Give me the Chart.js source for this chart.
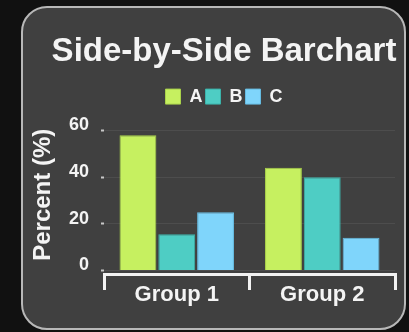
<!DOCTYPE html>
<html>
<head>
<meta charset="utf-8">
<script src="https://cdn.jsdelivr.net/npm/chart.js@4.4.0/dist/chart.umd.min.js"></script>
<style>
  html, body { margin: 0; padding: 0; background: #111111; overflow: hidden; width: 409px; height: 332px; }
  .panel {
    position: absolute; left: 21px; top: 6px; width: 385px; height: 324px;
    box-sizing: border-box; border: 2px solid #b8b8b8; border-radius: 26px; background: #404040;
  }
  canvas { position: absolute; left: 0; top: 0; }
</style>
</head>
<body>
<div class="panel"></div>
<canvas id="myChart" width="420" height="332"></canvas>
<script>
// Data
const categories = ['Group 1', 'Group 2'];
const seriesNames = ['A', 'B', 'C'];
const valuesA = [58, 44];
const valuesB = [15.5, 40];
const valuesC = [25, 14];
const yTickValues = [0, 20, 40, 60];

// Colors
const fills = ['#c6f060', '#4ecdc4', '#7fd5fb'];
const edges = ['#a9d24a', '#3bb3aa', '#67bde3'];

Chart.defaults.font.family = "'Liberation Sans', Arial, sans-serif";
Chart.defaults.font.weight = 'bold';
Chart.defaults.color = '#f4f4f4';

const ctx = document.getElementById('myChart').getContext('2d');

const myChart = new Chart(ctx, {
  type: 'bar',
  data: {
    labels: categories,
    datasets: [valuesA, valuesB, valuesC].map((vals, i) => ({
      label: seriesNames[i],
      data: vals,
      backgroundColor: fills[i],
      borderColor: edges[i],
      borderWidth: 1,
      categoryPercentage: 0.8,
      barPercentage: 0.95,
    })),
  },
  options: {
    responsive: false,
    animation: false,
    layout: { padding: { left: 28, right: 0, top: 0, bottom: 0 } },
    plugins: {
      title: {
        display: true,
        text: 'Side-by-Side Barchart',
        color: '#f4f4f4',
        font: { size: 33, weight: 'bold' },
        padding: { top: 32, bottom: 13 },
      },
      legend: {
        display: true,
        labels: {
          boxWidth: 15,
          boxHeight: 15,
          padding: 3,
          color: '#f4f4f4',
          font: { size: 18, weight: 'bold' },
        },
      },
      tooltip: { enabled: false },
    },
    scales: {
      x: {
        grid: {
          drawOnChartArea: false,
          drawTicks: true,
          tickLength: 16,
          color: '#f2f2f2',
          lineWidth: 3,
        },
        border: { display: true, color: '#f2f2f2', width: 3 },
        ticks: { color: '#f4f4f4', font: { size: 22, weight: 'bold' }, padding: -8 },
        afterFit: (s) => { s.height = 58; },
      },
      y: {
        min: -1.5,
        max: 66.4,
        afterBuildTicks: (s) => { s.ticks = yTickValues.map(v => ({ value: v })); },
        grid: {
          color: 'rgba(255,255,255,0.07)',
          tickColor: '#c8c8c8',
          tickWidth: 2,
          tickLength: 11,
          tickBorderDash: [0, 8, 3, 100],
        },
        border: { display: false },
        ticks: { color: '#f4f4f4', font: { size: 18, weight: 'bold' }, padding: 4, labelOffset: -5 },
        title: {
          display: true,
          text: 'Percent (%)',
          color: '#f4f4f4',
          font: { size: 24, weight: 'bold' },
          padding: { top: 1, bottom: 0 },
        },
        afterFit: (s) => { s.width = 76; },
      },
      yR: {
        position: 'right',
        display: true,
        grid: { display: false },
        border: { display: false },
        ticks: { display: false },
        afterFit: (s) => { s.width = 25; },
      },
    },
  },
});
</script>
</body>
</html>
